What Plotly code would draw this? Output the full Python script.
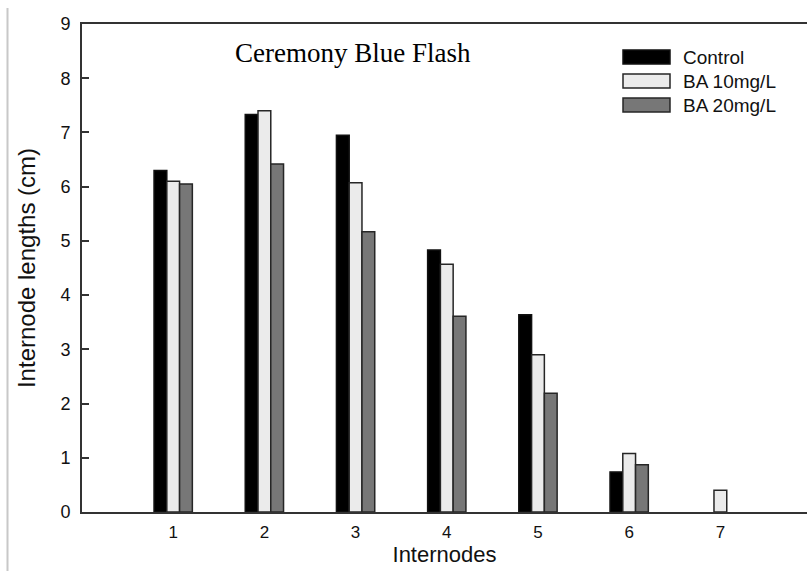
import plotly.graph_objects as go

# Internode lengths (cm) for the Ceremony Blue Flash cultivar
internodes = ["1", "2", "3", "4", "5", "6", "7"]
series_names = ["Control", "BA 10mg/L", "BA 20mg/L"]
control = [6.30, 7.33, 6.95, 4.83, 3.64, 0.74, 0.0]
ba10 = [6.10, 7.40, 6.07, 4.57, 2.90, 1.08, 0.40]
ba20 = [6.05, 6.42, 5.17, 3.61, 2.19, 0.87, 0.0]
y_ticks = [0, 1, 2, 3, 4, 5, 6, 7, 8, 9]

fills = ["#000000", "#ebebeb", "#777777"]
edges = ["#111111", "#262626", "#262626"]

W, H = 807, 571
L, R, T, B = 82, 0, 24, 59
plot_w, plot_h = W - L - R, H - T - B

fig = go.Figure()
xpos = [int(c) for c in internodes]
for name, vals, fc, ec in zip(series_names, [control, ba10, ba20], fills, edges):
    xs = [x for x, v in zip(xpos, vals) if v > 0]
    ys = [v for v in vals if v > 0]
    fig.add_trace(go.Bar(
        x=xs, y=ys, name=name, offsetgroup=name,
        marker=dict(color=fc, line=dict(color=ec, width=1.5)),
        showlegend=False,
    ))

font_sans = "Liberation Sans, Arial, sans-serif"


def px_x(px):
    return (px - L) / plot_w


def px_y(py):
    return (H - B - py) / plot_h


# Hand-built legend with wide swatches
shapes = []
annotations = []
row_y = [57, 81, 105]
for name, fc, ec, ry in zip(series_names, fills, edges, row_y):
    shapes.append(dict(
        type="rect", xref="paper", yref="paper",
        x0=px_x(623), x1=px_x(670), y0=px_y(ry + 7), y1=px_y(ry - 7),
        fillcolor=fc, line=dict(color=ec, width=1.5),
    ))
    annotations.append(dict(
        text=name, xref="paper", yref="paper", x=px_x(681), y=px_y(ry),
        xanchor="left", yanchor="middle", showarrow=False,
        font=dict(family=font_sans, size=19, color="#111111"),
    ))

# Cultivar name inside the plot
annotations.append(dict(
    text="Ceremony Blue Flash", xref="paper", yref="paper",
    x=px_x(233), y=px_y(53), xanchor="left", yanchor="middle", showarrow=False,
    font=dict(family="Liberation Serif, Times New Roman, serif", size=27, color="#000000"),
))

# Thin grey page border on the left
shapes.append(dict(
    type="line", xref="paper", yref="paper",
    x0=px_x(7.5), x1=px_x(7.5), y0=px_y(8), y1=px_y(H + 5),
    line=dict(color="#c8c8c8", width=2),
))

fig.update_layout(
    width=W, height=H,
    margin=dict(l=L, r=R, t=T, b=B),
    paper_bgcolor="white", plot_bgcolor="white",
    barmode="group", bargap=0.58, bargroupgap=0.0,
    shapes=shapes, annotations=annotations,
    font=dict(family=font_sans, color="#111111"),
)

fig.update_xaxes(
    range=[0, 7.95], tickmode="array", tickvals=xpos, ticktext=internodes,
    showline=True, linecolor="#333333", linewidth=2, mirror=True,
    ticks="", showgrid=False, zeroline=False,
    tickfont=dict(family=font_sans, size=17, color="#111111"),
    ticklabelstandoff=4,
    title=dict(text="Internodes", font=dict(family=font_sans, size=22, color="#111111"), standoff=2),
)
fig.update_yaxes(
    range=[0, 9], tickmode="array", tickvals=y_ticks,
    showline=True, linecolor="#333333", linewidth=2,
    ticks="inside", ticklen=7, tickwidth=2, tickcolor="#333333",
    showgrid=False, zeroline=False,
    tickfont=dict(family=font_sans, size=18, color="#111111"),
    ticklabelstandoff=6,
    title=dict(text="Internode lengths (cm)", font=dict(family=font_sans, size=24, color="#111111"), standoff=18),
)

fig.write_html("out.html")
